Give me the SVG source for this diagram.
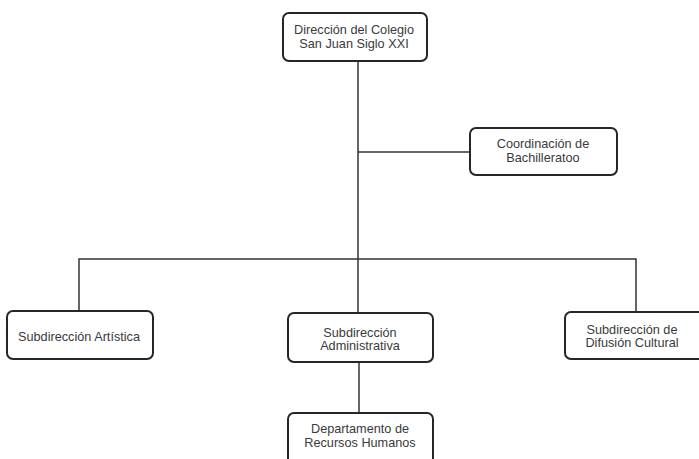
<svg xmlns="http://www.w3.org/2000/svg" width="699" height="459" viewBox="0 0 699 459">
<style>
.box{fill:#fff;stroke:#262626;stroke-width:2}
.t{font-family:"Liberation Sans",Arial,sans-serif;font-size:12.7px;fill:#3a3a3a;text-anchor:middle}
.c{fill:none;stroke:#333;stroke-width:1.5}
</style>
<rect width="699" height="459" fill="#fff"/>
<g id="connectors">
<line class="c" x1="358" y1="61" x2="358" y2="259"/>
<line class="c" x1="358" y1="152" x2="470" y2="152"/>
<polyline class="c" points="79,311 79,259 636,259 636,312"/>
<line class="c" x1="359" y1="362" x2="359" y2="413"/>
<line class="c" x1="358" y1="259" x2="358" y2="313"/>
</g>
<g id="n1">
<rect class="box" x="283" y="13" width="144" height="48" rx="6"/>
<text class="t" x="354" y="34">Dirección del Colegio</text>
<text class="t" x="354" y="47.5">San Juan Siglo XXI</text>
</g>
<g id="n2">
<rect class="box" x="470" y="128" width="147" height="47" rx="6"/>
<text class="t" x="543" y="148">Coordinación de</text>
<text class="t" x="543" y="162">Bachilleratoo</text>
</g>
<g id="n3">
<rect class="box" x="7" y="311" width="146" height="48" rx="6"/>
<text class="t" x="79" y="340.5">Subdirección Artística</text>
</g>
<g id="n4">
<rect class="box" x="288" y="313" width="145" height="49" rx="6"/>
<text class="t" x="360" y="336.5">Subdirección</text>
<text class="t" x="360" y="350">Administrativa</text>
</g>
<g id="n5">
<rect class="box" x="565" y="312" width="140" height="47" rx="6"/>
<text class="t" x="632" y="333.5">Subdirección de</text>
<text class="t" x="632" y="347">Difusión Cultural</text>
</g>
<g id="n6">
<rect class="box" x="288" y="413" width="145" height="52" rx="6"/>
<text class="t" x="360" y="432.5">Departamento de</text>
<text class="t" x="360" y="447">Recursos Humanos</text>
</g>
</svg>
